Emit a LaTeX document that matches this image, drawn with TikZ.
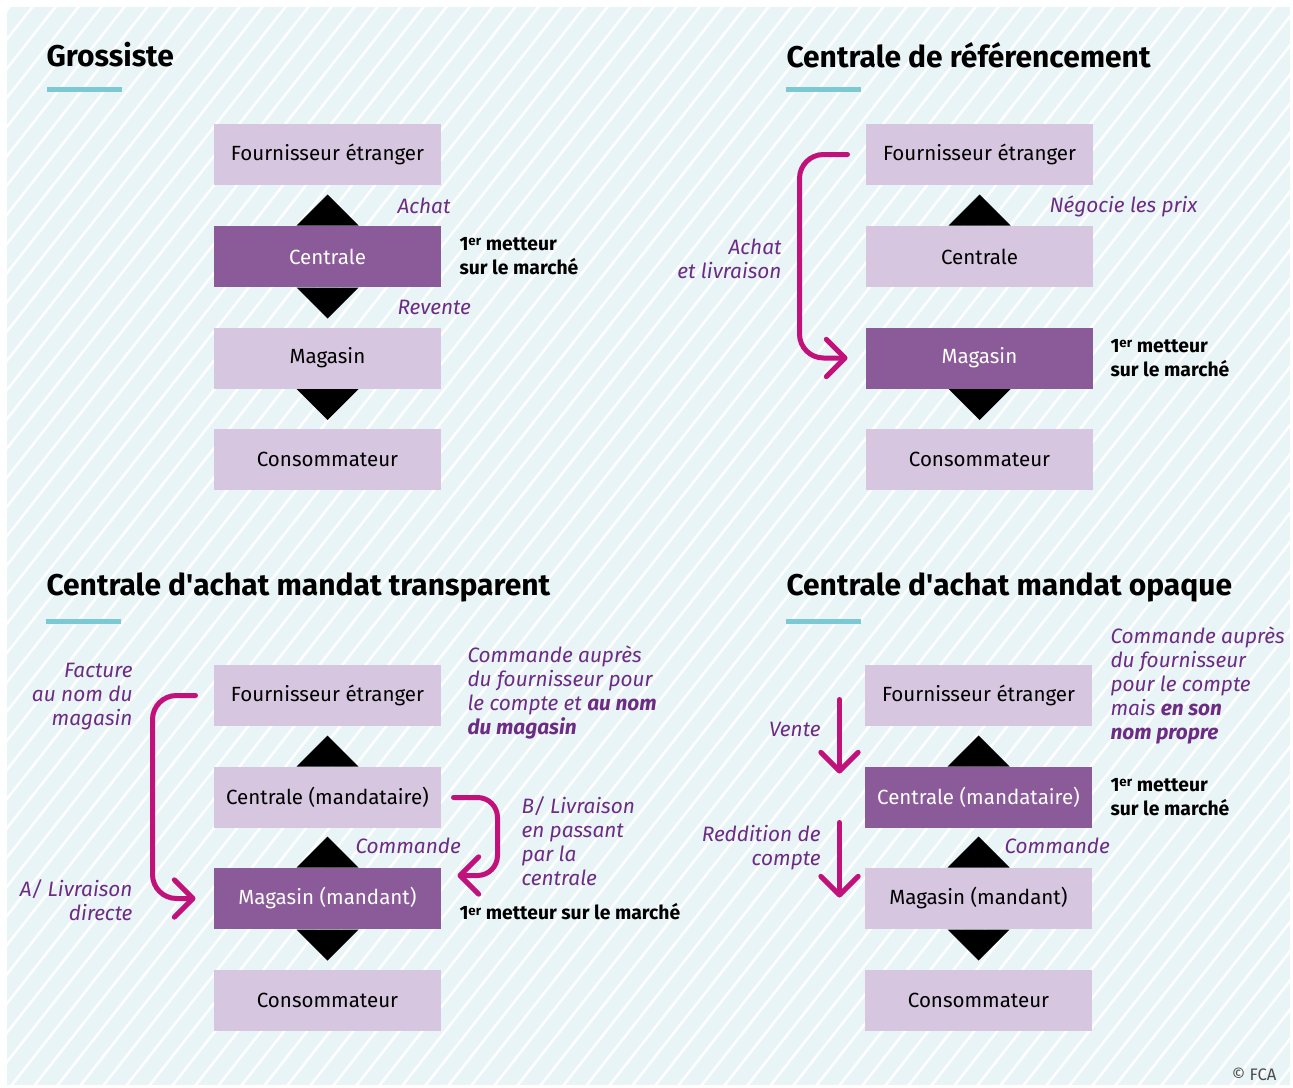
\documentclass[tikz,border=0pt]{standalone}
\usepackage{fontspec}
\setmainfont{Fira Sans}
\usetikzlibrary{calc,arrows.meta}

\definecolor{bgblue}{RGB}{232,244,246}
\definecolor{boxlight}{RGB}{214,198,223}
\definecolor{boxdark}{RGB}{139,90,152}
\definecolor{labpurple}{RGB}{108,44,132}
\definecolor{magenta}{RGB}{192,18,122}
\definecolor{ulteal}{RGB}{124,201,211}

\newcommand{\premier}{1\raisebox{0.45ex}{\fontsize{10}{10}\selectfont er}}

\tikzset{every picture/.style={line width=0.75pt}}

\begin{document}
\begin{tikzpicture}[x=0.75pt,y=0.75pt,yscale=-1,xscale=1,
  box/.style={fill=boxlight,minimum width=170.25pt,minimum height=45.75pt,inner sep=0pt,font=\fontsize{15.4}{18}\selectfont},
  darkbox/.style={box,fill=boxdark,text=white},
  title/.style={anchor=west,inner sep=0pt,font=\bfseries\fontsize{22.5}{26}\selectfont},
  uline/.style={draw=ulteal,line width=3.75pt},
  lab/.style={inner sep=0pt,text=labpurple,font=\itshape\fontsize{15.6}{18}\selectfont},
  first/.style={inner sep=0pt,anchor=west,align=left,font=\bfseries\fontsize{14.5}{18}\selectfont},
  tri/.style={fill=black},
  stripe/.style={draw=white,line width=1.9pt},
  magarrow/.style={draw=magenta,line width=3.75pt,line cap=round,-{Straight Barb[length=14pt,width=28pt,round]}}]
\useasboundingbox (0,0) rectangle (1293,1088);

%Background with stripes
\fill[bgblue] (7,7) rectangle (1290,1085);
\begin{scope}
\clip (7,7) rectangle (1290,1085);
\foreach \k in {-40,...,58} \draw[stripe] ({\k*23},1100) -- ++(880,-1118);
\end{scope}

%% Grossiste
\node[title] (t1) at (46,55) {Grossiste};
\draw[uline] ($(t1.west)+(1,35)$) -- ++(75,0);
\node[box] (f1) at (327.5,154.5) {Fournisseur étranger};
\node[darkbox] (c1) at (327.5,256.5) {Centrale};
\node[box] (m1) at (327.5,358) {Magasin};
\node[box] (k1) at (327.5,459.5) {Consommateur};
%Shape: Triangles
\fill[tri] ($(c1.north)+(-31,0)$) -- ($(c1.north)+(31,0)$) -- ($(c1.north)+(0,-31)$) -- cycle;
\fill[tri] ($(c1.south)+(-31,0)$) -- ($(c1.south)+(31,0)$) -- ($(c1.south)+(0,31)$) -- cycle;
\fill[tri] ($(m1.south)+(-31,0)$) -- ($(m1.south)+(31,0)$) -- ($(m1.south)+(0,31)$) -- cycle;
% Text Node
\node[lab,anchor=west] (achat1) at (397,206) {Achat};
\node[lab,anchor=west] (revente1) at (397,307) {Revente};
\node[first] (pm1) at (459,256) {\premier{} metteur\\sur le marché};

%% Centrale de referencement
\node[title] (t2) at (786,55) {Centrale de référencement};
\draw[uline] ($(t2.west)+(0,35)$) -- ++(75,0);
\node[box] (f2) at (979.5,154.5) {Fournisseur étranger};
\node[box] (c2) at (979.5,256.5) {Centrale};
\node[darkbox] (m2) at (979.5,358) {Magasin};
\node[box] (k2) at (979.5,459.5) {Consommateur};
%Shape: Triangles
\fill[tri] ($(c2.north)+(-31,0)$) -- ($(c2.north)+(31,0)$) -- ($(c2.north)+(0,-31)$) -- cycle;
\fill[tri] ($(m2.south)+(-31,0)$) -- ($(m2.south)+(31,0)$) -- ($(m2.south)+(0,31)$) -- cycle;
%Arrow
\draw[magarrow,rounded corners=18pt] ($(f2.west)+(-18,0)$) -- ++(-48,0) |- ($(m2.west)+(-18,0)$);
% Text Node
\node[lab,anchor=west] (nego2) at (1049,206) {Négocie les prix};
\node[lab,anchor=east,align=right] (achat2) at (782,259) {Achat\\et livraison};
\node[first] (pm2) at (1110,358) {\premier{} metteur\\sur le marché};

%% Mandat transparent
\node[title] (t3) at (46,587) {Centrale d\textquotesingle achat mandat transparent};
\draw[uline] ($(t3.west)+(0,34)$) -- ++(75,0);
\node[box] (f3) at (327.5,695.5) {Fournisseur étranger};
\node[box] (c3) at (327.5,797.5) {Centrale (mandataire)};
\node[darkbox] (m3) at (327.5,898.5) {Magasin (mandant)};
\node[box] (k3) at (327.5,1000.5) {Consommateur};
%Shape: Triangles
\fill[tri] ($(c3.north)+(-31,0)$) -- ($(c3.north)+(31,0)$) -- ($(c3.north)+(0,-31)$) -- cycle;
\fill[tri] ($(m3.north)+(-31,0)$) -- ($(m3.north)+(31,0)$) -- ($(m3.north)+(0,-31)$) -- cycle;
\fill[tri] ($(m3.south)+(-31,0)$) -- ($(m3.south)+(31,0)$) -- ($(m3.south)+(0,31)$) -- cycle;
%Arrows
\draw[magarrow,rounded corners=18pt] ($(f3.west)+(-18,0)$) -- ++(-43,0) |- ($(m3.west)+(-18,0)$);
\draw[magarrow,rounded corners=15pt] ($(c3.east)+(12,0)$) -- ++(44,0) |- ($(m3.north east)+(16,8)$);
% Text Node
\node[lab,anchor=east,align=right] (fact3) at (133,697) {Facture\\au nom du\\magasin};
\node[lab,anchor=east,align=right] (livA3) at (133,900) {A/ Livraison\\directe};
\node[lab,anchor=west] (cmd3) at (355,846) {Commande};
\node[lab,anchor=west,align=left] (note3) at (467,692) {Commande auprès\\du fournisseur pour\\le compte et \textbf{au nom}\\\textbf{du magasin}};
\node[lab,anchor=west,align=left] (livB3) at (521,841) {B/ Livraison\\en passant\\par la\\centrale};
\node[first] (pm3) at (459,912) {\premier{} metteur sur le marché};

%% Mandat opaque
\node[title] (t4) at (786,587) {Centrale d\textquotesingle achat mandat opaque};
\draw[uline] ($(t4.west)+(0,34)$) -- ++(75,0);
\node[box] (f4) at (978.5,695.5) {Fournisseur étranger};
\node[darkbox] (c4) at (978.5,797.5) {Centrale (mandataire)};
\node[box] (m4) at (978.5,898.5) {Magasin (mandant)};
\node[box] (k4) at (978.5,1000.5) {Consommateur};
%Shape: Triangles
\fill[tri] ($(c4.north)+(-31,0)$) -- ($(c4.north)+(31,0)$) -- ($(c4.north)+(0,-31)$) -- cycle;
\fill[tri] ($(m4.north)+(-31,0)$) -- ($(m4.north)+(31,0)$) -- ($(m4.north)+(0,-31)$) -- cycle;
\fill[tri] ($(m4.south)+(-31,0)$) -- ($(m4.south)+(31,0)$) -- ($(m4.south)+(0,31)$) -- cycle;
%Arrows
\draw[magarrow] ($(f4.west)+(-25,4)$) -- ($(c4.west)+(-25,-24)$);
\draw[magarrow] ($(c4.west)+(-25,25)$) -- ($(m4.west)+(-25,-1)$);
% Text Node
\node[lab,anchor=east] (vente4) at (821,729) {Vente};
\node[lab,anchor=east,align=right] (redd4) at (821,848) {Reddition de\\compte};
\node[lab,anchor=west] (cmd4) at (1004,846) {Commande};
\node[first] (pm4) at (1110,797) {\premier{} metteur\\sur le marché};
\node[lab,anchor=west,align=left] (note4) at (1110,685) {Commande auprès\\du fournisseur\\pour le compte\\mais \textbf{en son}\\\textbf{nom propre}};

% Text Node
\node[anchor=east,inner sep=0pt,text=black!70,font=\fontsize{12.5}{14}\selectfont] (copy) at (1277,1074) {© FCA};

\end{tikzpicture}
\end{document}
